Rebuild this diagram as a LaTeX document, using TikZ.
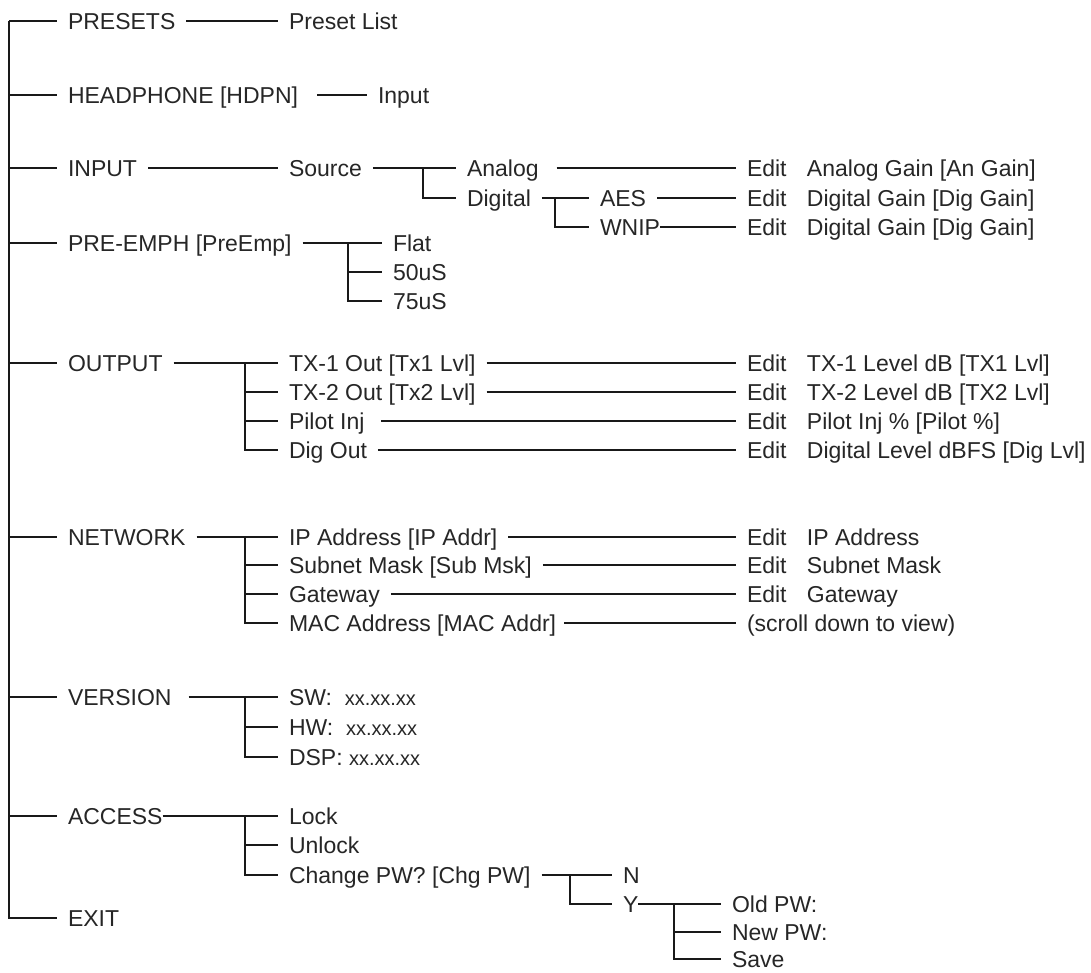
\documentclass[tikz,border=0pt]{standalone}
\usepackage{fontspec}
\setmainfont{Liberation Sans}
\newcommand{\editcol}[1]{\makebox[60pt][l]{Edit}#1}
\newcommand{\verno}{{\fontsize{20}{24}\selectfont xx.xx.xx}}
\begin{document}
\begin{tikzpicture}[x=1pt,y=-1pt,
    entry/.style={anchor=west, inner xsep=0pt, inner ysep=0pt, outer xsep=11pt, outer ysep=0pt,
      text height=16.5pt, text depth=0pt, font=\fontsize{23}{27}\selectfont, text=black!85},
    link/.style={line width=1.2pt, black!90}]
  \useasboundingbox (0,0) rectangle (1091,972);
  % bracket columns
  \coordinate (root) at (9,0);
  \coordinate (bsrc) at (423,0);
  \coordinate (bdig) at (555,0);
  \coordinate (bpem) at (348,0);
  \coordinate (bsub) at (245,0);
  \coordinate (bchg) at (570,0);
  \coordinate (byes) at (674,0);

  % top level menu
  \node[entry] (pre) at (57,21)  {PRESETS};
  \node[entry] (hdp) at (57,95)  {HEADPHONE [HDPN]};
  \node[entry] (inp) at (57,168) {INPUT};
  \node[entry] (pem) at (57,243) {PRE-EMPH [PreEmp]};
  \node[entry] (out) at (57,363) {OUTPUT};
  \node[entry] (net) at (57,537) {NETWORK};
  \node[entry] (ver) at (57,697) {VERSION};
  \node[entry] (acc) at (57,816) {ACCESS};
  \node[entry] (ext) at (57,918) {EXIT};

  % second level
  \node[entry] (prl) at (278,21)  {Preset List};
  \node[entry] (hin) at (367,95)  {Input};
  \node[entry] (src) at (278,168) {Source};
  \node[entry] (flt) at (382,243) {Flat};
  \node[entry] (f50) at (382,272) {50uS};
  \node[entry] (f75) at (382,301) {75uS};
  \node[entry] (tx1) at (278,363) {TX-1 Out [Tx1 Lvl]};
  \node[entry] (tx2) at (278,392) {TX-2 Out [Tx2 Lvl]};
  \node[entry] (pil) at (278,421) {Pilot Inj};
  \node[entry] (dgo) at (278,450) {Dig Out};
  \node[entry] (ipa) at (278,537) {IP Address [IP Addr]};
  \node[entry] (sub) at (278,565) {Subnet Mask [Sub Msk]};
  \node[entry] (gtw) at (278,594) {Gateway};
  \node[entry] (mac) at (278,623) {MAC Address [MAC Addr]};
  \node[entry] (sw)  at (278,697) {SW:~~\verno};
  \node[entry] (hw)  at (278,727) {HW:~~\verno};
  \node[entry] (dsp) at (278,757) {DSP:~\verno};
  \node[entry] (lck) at (278,816) {Lock};
  \node[entry] (ulk) at (278,845) {Unlock};
  \node[entry] (chg) at (278,875) {Change PW? [Chg PW]};

  % third level
  \node[entry] (ana) at (456,168) {Analog};
  \node[entry] (dig) at (456,198) {Digital};
  \node[entry] (aes) at (589,198) {AES};
  \node[entry] (wnp) at (589,227) {WNIP};
  \node[entry] (no)  at (612,875) {N};
  \node[entry] (yes) at (612,904) {Y};
  \node[entry] (old) at (721,904) {Old PW:};
  \node[entry] (new) at (721,932) {New PW:};
  \node[entry] (sav) at (721,959) {Save};

  % edit screens
  \node[entry] (ean) at (736,168) {\editcol{Analog Gain [An Gain]}};
  \node[entry] (ed1) at (736,198) {\editcol{Digital Gain [Dig Gain]}};
  \node[entry] (ed2) at (736,227) {\editcol{Digital Gain [Dig Gain]}};
  \node[entry] (et1) at (736,363) {\editcol{TX-1 Level dB [TX1 Lvl]}};
  \node[entry] (et2) at (736,392) {\editcol{TX-2 Level dB [TX2 Lvl]}};
  \node[entry] (epi) at (736,421) {\editcol{Pilot Inj \% [Pilot \%]}};
  \node[entry] (edl) at (736,450) {\editcol{Digital Level dBFS [Dig Lvl]}};
  \node[entry] (eip) at (736,537) {\editcol{IP Address}};
  \node[entry] (esm) at (736,565) {\editcol{Subnet Mask}};
  \node[entry] (egw) at (736,594) {\editcol{Gateway}};
  \node[entry] (scr) at (736,623) {(scroll down to view)};

  % main trunk
  \draw[link] (pre.west -| root) |- (ext.west);
  \foreach \n in {pre,hdp,inp,pem,out,net,ver,acc}
    \draw[link] (\n.west -| root) -- (\n.west);

  % presets, headphone
  \draw[link] (pre.east) -- (prl.west);
  \draw[link] ([xshift=8pt]hdp.east) -- (hin.west);

  % input
  \draw[link] (inp.east) -- (src.west);
  \draw[link] (src.east) -- (ana.west);
  \draw[link] (ana.west -| bsrc) |- (dig.west);
  \draw[link] (dig.east) -- (aes.west);
  \draw[link] (aes.west -| bdig) |- (wnp.west);
  \draw[link] ([xshift=7pt]ana.east) -- (ean.west);
  \draw[link] (aes.east) -- (ed1.west);
  \draw[link] ([xshift=-11pt]wnp.east) -- (ed2.west);

  % pre-emphasis
  \draw[link] (pem.east) -- (flt.west);
  \draw[link] (flt.west -| bpem) |- (f75.west);
  \draw[link] (f50.west -| bpem) -- (f50.west);

  % output
  \draw[link] (out.east) -- (tx1.west);
  \draw[link] (tx1.west -| bsub) |- (dgo.west);
  \foreach \n in {tx2,pil}
    \draw[link] (\n.west -| bsub) -- (\n.west);
  \draw[link] (tx1.east) -- (et1.west);
  \draw[link] (tx2.east) -- (et2.west);
  \draw[link] ([xshift=6pt]pil.east) -- (epi.west);
  \draw[link] (dgo.east) -- (edl.west);

  % network
  \draw[link] (net.east) -- (ipa.west);
  \draw[link] (ipa.west -| bsub) |- (mac.west);
  \foreach \n in {sub,gtw}
    \draw[link] (\n.west -| bsub) -- (\n.west);
  \draw[link] (ipa.east) -- (eip.west);
  \draw[link] (sub.east) -- (esm.west);
  \draw[link] (gtw.east) -- (egw.west);
  \draw[link] ([xshift=-3pt]mac.east) -- (scr.west);

  % version
  \draw[link] ([xshift=6pt]ver.east) -- (sw.west);
  \draw[link] (sw.west -| bsub) |- (dsp.west);
  \draw[link] (hw.west -| bsub) -- (hw.west);

  % access
  \draw[link] ([xshift=-11pt]acc.east) -- (lck.west);
  \draw[link] (lck.west -| bsub) |- (chg.west);
  \draw[link] (ulk.west -| bsub) -- (ulk.west);
  \draw[link] (chg.east) -- (no.west);
  \draw[link] (no.west -| bchg) |- (yes.west);
  \draw[link] ([xshift=-11pt]yes.east) -- (old.west);
  \draw[link] (old.west -| byes) |- (sav.west);
  \draw[link] (new.west -| byes) -- (new.west);
\end{tikzpicture}
\end{document}
